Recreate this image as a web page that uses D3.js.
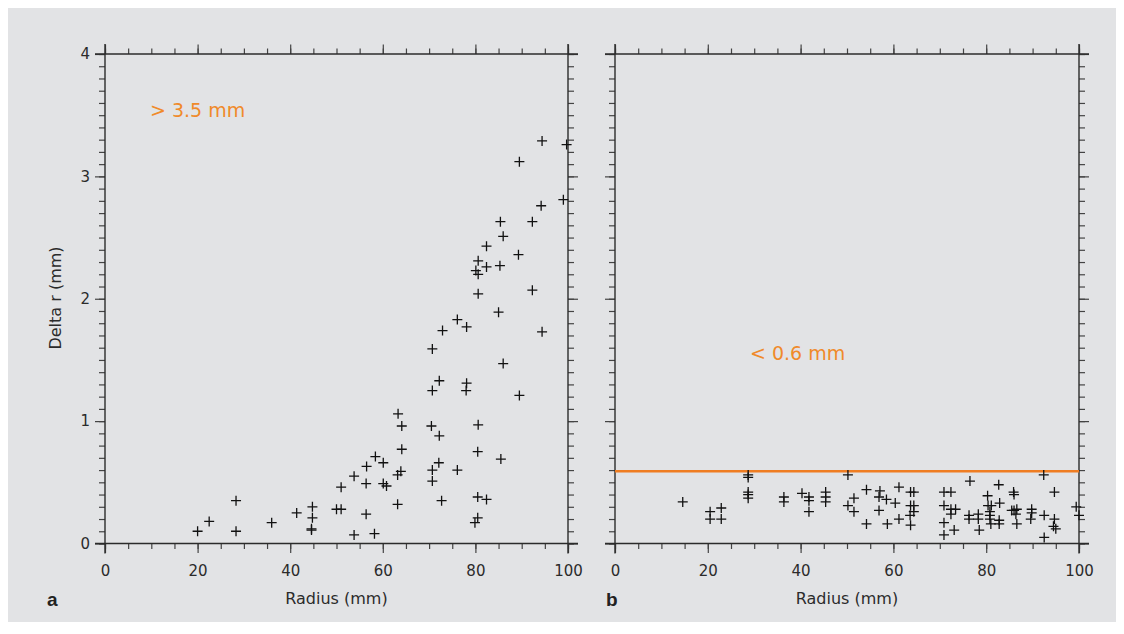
<!DOCTYPE html>
<html lang="en">
<head>
	<meta charset="utf-8">
	<script src="https://d3js.org/d3.v7.min.js"></script>
	<style type="text/css">
		body { margin: 0; background: #ffffff; }
		.tick text { font-family: "DejaVu Sans", sans-serif; font-size: 15px; fill: #2b2b2b; }
		.title { font-family: "DejaVu Sans", sans-serif; font-size: 16px; fill: #2b2b2b; }
		.note { font-family: "DejaVu Sans", sans-serif; font-size: 19px; fill: #f08a2a; }
		.panel { font-family: "Liberation Sans", Arial, sans-serif; font-size: 19px; font-weight: bold; fill: #222; }
	</style>
</head>
<body>
	<script type="text/javascript">
	var width = 1124;
	var height = 634;

	// panel a: radius (mm) vs delta r (mm)
	var aRadius = [20.0, 22.5, 28.3, 28.3, 36.0, 41.4, 44.8, 44.8, 44.6, 44.6, 50.0, 51.0, 51.0,
		53.8, 53.8, 56.5, 56.4, 56.4, 58.4, 58.2, 60.1, 60.1, 60.8, 63.3, 64.1, 64.1, 63.9, 63.2, 63.2,
		70.5, 72.2, 72.1, 70.7, 70.7, 72.7, 76.1, 80.6, 80.5, 80.5, 82.4, 80.5, 79.9, 85.5,
		86.0, 82.4, 89.3, 80.6, 82.4, 85.3, 80.1, 80.6, 92.3, 80.6, 85.0, 76.1, 78.1, 72.9, 94.4,
		70.7, 86.0, 72.2, 78.1, 70.7, 78.0, 89.5,
		94.4, 99.7, 89.5, 99.0, 94.2, 85.4, 92.3];
	var aDelta = [0.10, 0.18, 0.35, 0.10, 0.17, 0.25, 0.30, 0.21, 0.12, 0.11, 0.28, 0.28, 0.46,
		0.55, 0.07, 0.63, 0.49, 0.24, 0.71, 0.08, 0.66, 0.49, 0.47, 1.06, 0.96, 0.77, 0.59, 0.56, 0.32,
		0.96, 0.88, 0.66, 0.60, 0.51, 0.35, 0.60, 0.97, 0.75, 0.38, 0.36, 0.21, 0.17, 0.69,
		2.51, 2.43, 2.36, 2.31, 2.26, 2.27, 2.23, 2.20, 2.07, 2.04, 1.89, 1.83, 1.77, 1.74, 1.73,
		1.59, 1.47, 1.33, 1.31, 1.25, 1.25, 1.21,
		3.29, 3.26, 3.12, 2.81, 2.76, 2.63, 2.63];

	// panel b: radius (mm) vs delta r (mm)
	var bRadius = [14.6, 20.5, 20.5, 22.9, 22.9, 28.7, 28.7, 28.7, 28.7, 28.7, 36.4, 36.4, 40.3, 41.8, 41.8, 41.8,
		45.4, 45.4, 45.4, 50.2, 50.2, 51.5, 51.5, 54.2, 54.2, 57.1, 56.9, 56.9, 58.5, 58.7, 60.4, 61.2, 61.2,
		63.7, 64.4, 63.7, 64.4, 64.4, 63.6, 63.7, 70.9, 72.4, 70.9, 72.4, 73.4, 72.4, 70.9, 73.1, 70.9,
		76.5, 76.3, 76.3, 78.3, 78.3, 78.5, 80.3, 80.4, 81.1, 80.8, 80.8, 80.8, 81.0, 82.7, 82.9, 82.8, 82.8,
		85.9, 86.0, 85.5, 86.0, 86.6, 86.4, 86.6, 89.8, 89.8, 89.6, 92.4, 92.5, 92.5, 94.7, 94.7, 94.5, 95.0,
		99.4, 100.0];
	var bDelta = [0.34, 0.26, 0.20, 0.29, 0.20, 0.56, 0.54, 0.42, 0.40, 0.37, 0.38, 0.34, 0.41, 0.38, 0.35, 0.26,
		0.42, 0.38, 0.34, 0.56, 0.31, 0.37, 0.26, 0.44, 0.16, 0.43, 0.38, 0.27, 0.36, 0.16, 0.33, 0.46, 0.20,
		0.42, 0.42, 0.31, 0.31, 0.26, 0.23, 0.15, 0.42, 0.42, 0.31, 0.28, 0.28, 0.24, 0.17, 0.11, 0.07,
		0.51, 0.23, 0.20, 0.24, 0.20, 0.11, 0.39, 0.31, 0.31, 0.26, 0.23, 0.20, 0.16, 0.48, 0.33, 0.19, 0.16,
		0.42, 0.40, 0.27, 0.27, 0.28, 0.24, 0.16, 0.28, 0.25, 0.20, 0.56, 0.23, 0.05, 0.42, 0.20, 0.14, 0.12,
		0.30, 0.23];

	var xTicks = [0, 20, 40, 60, 80, 100];
	var yTicks = [0, 1, 2, 3, 4];
	var xMinor = d3.range(0, 101, 5);
	var yMinor = d3.range(0, 41, 1).map(function(d) { return d / 10; });

	var notes = ["> 3.5 mm", "< 0.6 mm"];
	var limitB = 0.59;

	var svg = d3.select("body").append("svg")
		.attr("width", width)
		.attr("height", height);

	svg.append("rect")
		.attr("x", 8).attr("y", 8)
		.attr("width", 1108).attr("height", 614)
		.attr("fill", "#e2e3e5");

	var y = d3.scaleLinear().domain([0, 4]).range([543.5, 54]);

	var panels = [
		{ x0: 105, x1: 568, radius: aRadius, delta: aDelta, letter: "a", lx: 47, labels: true },
		{ x0: 615, x1: 1079, radius: bRadius, delta: bDelta, letter: "b", lx: 606, labels: false }
	];

	panels.forEach(function(p, k) {
		var x = d3.scaleLinear().domain([0, 100]).range([p.x0, p.x1]);
		var g = svg.append("g");

		function ticks(axis, vals, size, sel, showText) {
			var a = axis.tickValues(vals).tickSize(size).tickSizeOuter(0)
				.tickFormat(showText ? d3.format("d") : "");
			var t = g.append("g").attr("transform", sel).call(a);
			t.select(".domain").remove();
			t.selectAll("line").attr("stroke", "#444").attr("stroke-width", 1.2);
			return t;
		}

		// minor ticks
		ticks(d3.axisBottom(x), xMinor, 5.5, "translate(0,543.5)", false);
		ticks(d3.axisTop(x), xMinor, 5.5, "translate(0,54)", false);
		ticks(d3.axisLeft(y), yMinor, 6, "translate(" + p.x0 + ",0)", false);
		ticks(d3.axisRight(y), yMinor, 6, "translate(" + p.x1 + ",0)", false);
		// major ticks
		var bx = ticks(d3.axisBottom(x), xTicks, 9.5, "translate(0,543.5)", true);
		bx.selectAll("text").attr("dy", "0").attr("y", 32);
		ticks(d3.axisTop(x), xTicks, 9.5, "translate(0,54)", false);
		var ly = ticks(d3.axisLeft(y), yTicks, 10, "translate(" + p.x0 + ",0)", p.labels);
		ly.selectAll("text").attr("x", -15);
		ticks(d3.axisRight(y), yTicks, 10, "translate(" + p.x1 + ",0)", false);

		// frame lines, extended past the corners like the original
		var frame = [
			[p.x0 - 10, 543.5, p.x1 + 10, 543.5],
			[p.x0 - 10, 54, p.x1 + 10, 54],
			[p.x0, 44, p.x0, 553.5],
			[p.x1, 44, p.x1, 553.5]
		];
		g.selectAll("line.frame").data(frame).enter().append("line")
			.attr("class", "frame")
			.attr("x1", function(d) { return d[0]; })
			.attr("y1", function(d) { return d[1]; })
			.attr("x2", function(d) { return d[2]; })
			.attr("y2", function(d) { return d[3]; })
			.attr("stroke", "#2b2b2b")
			.attr("stroke-width", 1.4);

		if (k === 1) {
			g.append("line")
				.attr("x1", p.x0).attr("x2", p.x1)
				.attr("y1", y(limitB)).attr("y2", y(limitB))
				.attr("stroke", "#ef7d22")
				.attr("stroke-width", 2.5);
		}

		// "+" markers
		var pts = p.radius.map(function(r, i) { return [r, p.delta[i]]; });
		g.selectAll("path.pt").data(pts).enter().append("path")
			.attr("class", "pt")
			.attr("d", function(d) {
				var cx = x(d[0]), cy = y(d[1]);
				return "M" + (cx - 5) + "," + cy + "H" + (cx + 5) + "M" + cx + "," + (cy - 5) + "V" + (cy + 5);
			})
			.attr("stroke", "#111")
			.attr("stroke-width", 1.3)
			.attr("fill", "none");

		g.append("text")
			.attr("class", "title")
			.attr("x", (p.x0 + p.x1) / 2)
			.attr("y", 604)
			.attr("text-anchor", "middle")
			.text("Radius (mm)");

		g.append("text")
			.attr("class", "panel")
			.attr("x", p.lx)
			.attr("y", 606)
			.text(p.letter);
	});

	svg.append("text")
		.attr("class", "title")
		.attr("transform", "translate(61,298) rotate(-90)")
		.attr("text-anchor", "middle")
		.text("Delta r (mm)");

	svg.append("text").attr("class", "note")
		.attr("x", 150).attr("y", 117)
		.text(notes[0]);
	svg.append("text").attr("class", "note")
		.attr("x", 750).attr("y", 360)
		.text(notes[1]);
	</script>
</body>
</html>
